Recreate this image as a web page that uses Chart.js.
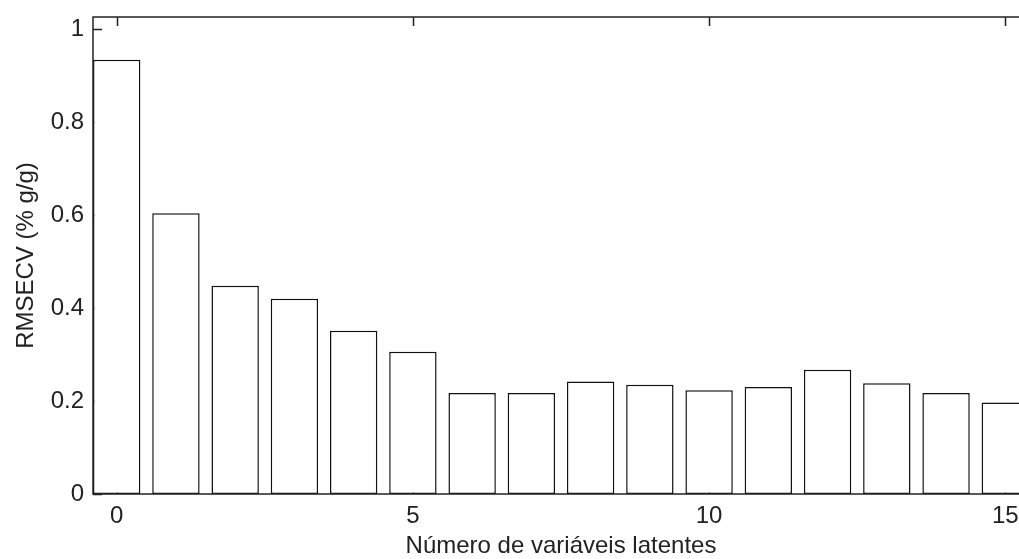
<!DOCTYPE html>
<html>
<head>
<meta charset="utf-8">
<script src="https://cdn.jsdelivr.net/npm/chart.js@4/dist/chart.umd.min.js"></script>
<style>
  html, body { margin: 0; padding: 0; background: #fff; overflow: hidden; }
  canvas { display: block; }
</style>
</head>
<body>
<canvas id="myChart" width="1045" height="559"></canvas>
<script>
// numero de variaveis latentes e RMSECV
const latentes = [0, 1, 2, 3, 4, 5, 6, 7, 8, 9, 10, 11, 12, 13, 14, 15];
const rmsecv = [0.934, 0.604, 0.448, 0.420, 0.351, 0.306, 0.217, 0.217, 0.242, 0.235, 0.223, 0.230, 0.267, 0.238, 0.217, 0.197];
const xTicks = [0, 5, 10, 15];
const yTicks = [0, 0.2, 0.4, 0.6, 0.8, 1];

const lineColor = "#222";

// ticks para dentro (desenhados por baixo das barras) e moldura por cima
const eixos = {
  id: "eixos",
  beforeDatasetsDraw(chart) {
    const ctx = chart.ctx, a = chart.chartArea;
    const x = chart.scales.x, y = chart.scales.y;
    ctx.save();
    ctx.strokeStyle = lineColor;
    ctx.lineWidth = 1.5;
    ctx.beginPath();
    for (const t of xTicks) {
      const px = Math.round(x.getPixelForValue(t)) + 0.5;
      ctx.moveTo(px, a.top); ctx.lineTo(px, a.top + 9);
      ctx.moveTo(px, a.bottom); ctx.lineTo(px, a.bottom - 9);
    }
    for (const t of yTicks) {
      const py = Math.round(y.getPixelForValue(t)) + 0.5;
      ctx.moveTo(a.left, py); ctx.lineTo(a.left + 9, py);
      ctx.moveTo(a.right, py); ctx.lineTo(a.right - 9, py);
    }
    ctx.stroke();
    ctx.restore();
  },
  afterDatasetsDraw(chart) {
    const ctx = chart.ctx, a = chart.chartArea;
    ctx.save();
    ctx.strokeStyle = lineColor;
    ctx.lineWidth = 1.5;
    ctx.strokeRect(a.left, a.top, a.right - a.left, a.bottom - a.top);
    ctx.restore();
  }
};

Chart.defaults.font.family = "'Liberation Sans', Arial, sans-serif";
Chart.defaults.font.size = 24;
Chart.defaults.color = "#222";

let ch = document.getElementById("myChart");
new Chart(ch, {
  type: "bar",
  data: {
    labels: latentes,
    datasets: [{
      data: latentes.map((v, i) => ({ x: v, y: rmsecv[i] })),
      backgroundColor: "#fff",
      borderColor: "#111",
      borderWidth: 1.5,
      borderSkipped: false,
      barPercentage: 0.8,
      categoryPercentage: 1.0
    }]
  },
  options: {
    responsive: false,
    animation: false,
    layout: { padding: { top: 17, right: 16, left: 0, bottom: 0 } },
    plugins: { legend: { display: false }, tooltip: { enabled: false } },
    scales: {
      x: {
        type: "linear",
        min: -0.4,
        max: 15.4,
        offset: false,
        grid: { display: false, drawTicks: false },
        border: { display: false },
        ticks: {
          stepSize: 5,
          includeBounds: false,
          padding: 8,
          maxRotation: 0,
          callback: v => String(v)
        },
        title: {
          display: true,
          text: "Número de variáveis latentes",
          font: { size: 24, lineHeight: 1 },
          padding: { top: 0, bottom: 1 }
        },
        afterFit(scale) {
          scale.height = 65;
          scale.paddingLeft = 0;
          scale.paddingRight = 0;
        }
      },
      y: {
        min: 0,
        max: 1.026,
        grid: { display: false, drawTicks: false },
        border: { display: false },
        ticks: {
          stepSize: 0.2,
          includeBounds: false,
          padding: 9,
          callback: v => String(+v.toFixed(1))
        },
        title: {
          display: true,
          text: "RMSECV (% g/g)",
          padding: { top: 12, bottom: 0 }
        },
        afterFit(scale) {
          scale.width = 93;
          scale.paddingTop = 0;
          scale.paddingBottom = 0;
        }
      }
    }
  },
  plugins: [eixos]
});
</script>
</body>
</html>
